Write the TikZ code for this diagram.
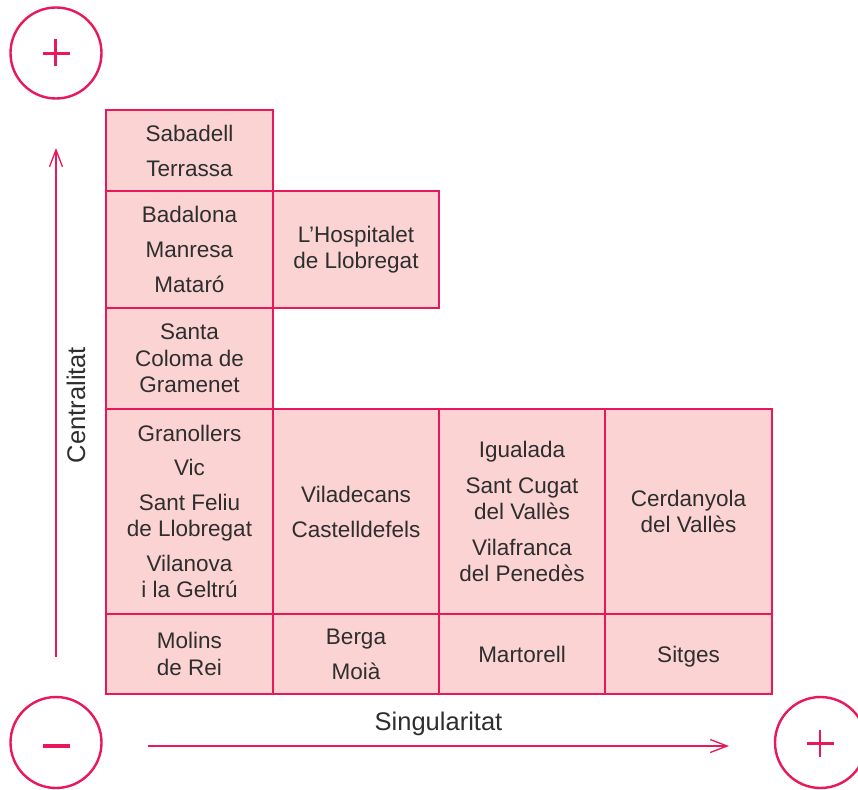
\documentclass[tikz,border=0pt]{standalone}
\usepackage{fontspec}
\setmainfont{Liberation Sans}
\usetikzlibrary{arrows.meta}
\definecolor{pinkline}{HTML}{E8185A}
\definecolor{pinkfill}{HTML}{FAD3D2}
\definecolor{textgray}{HTML}{2E2E2E}
\tikzset{
  cell/.style={draw=pinkline, fill=pinkfill, line width=1.4pt, inner sep=0pt, align=center,
    text=textgray, font=\fontsize{22.5}{26.5}\selectfont},
  circ/.style={draw=pinkline, line width=2.4pt, circle, minimum size=91pt, inner sep=0pt},
  sign/.style={draw=pinkline, line width=2.7pt},
  axis/.style={draw=pinkline, line width=1.3pt, -{Straight Barb[length=17pt,width=13pt,line width=1.3pt]}},
  axlabel/.style={text=textgray, font=\fontsize{25.5}{30}\selectfont, inner sep=0pt}
}
\begin{document}
\begin{tikzpicture}[x=1pt,y=-1pt]
\clip (0,0) rectangle (858,789);
\fill[white] (0,0) rectangle (858,789);
% row 1
\node[cell, minimum width=167pt, minimum height=81pt] (sab) at (189.5,150.5) {Sabadell\\[8.5pt]Terrassa};
% row 2
\node[cell, minimum width=167pt, minimum height=117pt] (bad) at (189.5,249.5) {Badalona\\[8.5pt]Manresa\\[8.5pt]Mataró};
\node[cell, minimum width=166pt, minimum height=117pt] (hos) at (356,249.5) {L’Hospitalet\\de Llobregat};
% row 3
\node[cell, minimum width=167pt, minimum height=101pt] (sco) at (189.5,358.5) {Santa\\Coloma de\\Gramenet};
% row 4
\node[cell, minimum width=167pt, minimum height=205pt] (gra) at (189.5,511.5) {Granollers\\[8pt]Vic\\[8pt]Sant Feliu\\de Llobregat\\[8pt]Vilanova\\i la Geltrú};
\node[cell, minimum width=166pt, minimum height=205pt] (vil) at (356,511.5) {Viladecans\\[8.5pt]Castelldefels};
\node[cell, minimum width=166pt, minimum height=205pt] (igu) at (522,511.5) {Igualada\\[9pt]Sant Cugat\\del Vallès\\[9pt]Vilafranca\\del Penedès};
\node[cell, minimum width=167pt, minimum height=205pt] (cer) at (688.5,511.5) {Cerdanyola\\del Vallès};
% row 5
\node[cell, minimum width=167pt, minimum height=80pt] (mol) at (189.5,654) {Molins\\de Rei};
\node[cell, minimum width=166pt, minimum height=80pt] (ber) at (356,654) {Berga\\[8.5pt]Moià};
\node[cell, minimum width=166pt, minimum height=80pt] (mar) at (522,654) {Martorell};
\node[cell, minimum width=167pt, minimum height=80pt, text depth=0pt] (sit) at (688.5,654) {Sitges};
% axes
\coordinate (vs) at (56,657);
\coordinate (ve) at (56,148);
\coordinate (hs) at (148,746);
\coordinate (he) at (729,746);
\draw[axis] (vs) -- (ve);
\draw[axis] (hs) -- (he);
\node[axlabel, rotate=90] (cent) at (76,405) {Centralitat};
\node[axlabel, text depth=0pt] (sing) at (438.5,721) {Singularitat};
% circles
\node[circ] (tl) at (56,53) {};
\node[circ] (bl) at (56,742.5) {};
\node[circ] (br) at (820.5,742.5) {};
\draw[sign] ([xshift=-13.5pt,yshift=-0.5pt]tl.center) -- ([xshift=13.5pt,yshift=-0.5pt]tl.center);
\draw[sign] ([xshift=-0.5pt,yshift=13.5pt]tl.center) -- ([xshift=-0.5pt,yshift=-13.5pt]tl.center);
\draw[sign, line width=4pt] ([xshift=-13.5pt,yshift=-3pt]bl.center) -- ([xshift=13.5pt,yshift=-3pt]bl.center);
\draw[sign] ([xshift=-13.5pt,yshift=-1pt]br.center) -- ([xshift=13.5pt,yshift=-1pt]br.center);
\draw[sign] ([xshift=-0.5pt,yshift=12.5pt]br.center) -- ([xshift=-0.5pt,yshift=-14.5pt]br.center);
\end{tikzpicture}
\end{document}
